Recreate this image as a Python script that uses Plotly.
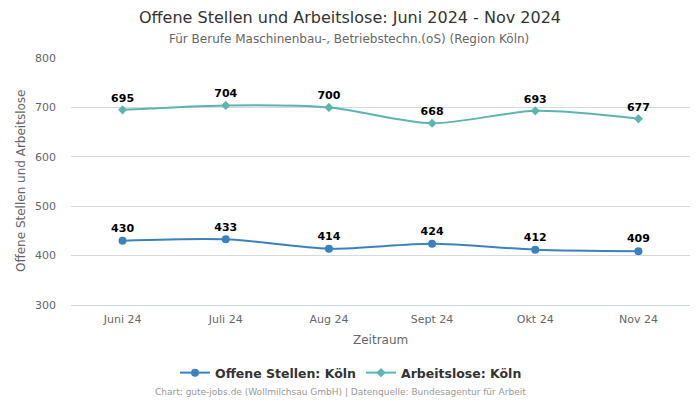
import plotly.graph_objects as go

categories = ["Juni 24", "Juli 24", "Aug 24", "Sept 24", "Okt 24", "Nov 24"]
offene_stellen = [430, 433, 414, 424, 412, 409]
arbeitslose = [695, 704, 700, 668, 693, 677]
y_ticks = [300, 400, 500, 600, 700, 800]

FONT = "DejaVu Sans, Verdana, sans-serif"
blue = "#3a82bd"
teal = "#5cb5ad"

W, H = 700, 400
L, R, T, B = 71, 10, 58, 95
PH = H - T - B
PW = W - L - R


def py(px):
    """pixel y from top -> paper y"""
    return (H - B - px) / PH


def px_(p):
    return (p - L) / PW


fig = go.Figure()
fig.add_trace(go.Scatter(
    x=categories, y=offene_stellen, name="Offene Stellen: Köln",
    mode="lines+markers+text", line=dict(color=blue, width=2, shape="spline", smoothing=0.8),
    marker=dict(symbol="circle", size=8, color=blue),
    text=[str(v) for v in offene_stellen], textposition="top center",
    textfont=dict(family=FONT, size=11, color="#000000", weight="bold"),
    cliponaxis=False,
))
fig.add_trace(go.Scatter(
    x=categories, y=arbeitslose, name="Arbeitslose: Köln",
    mode="lines+markers+text", line=dict(color=teal, width=2, shape="spline", smoothing=0.8),
    marker=dict(symbol="diamond", size=7, color=teal),
    text=[str(v) for v in arbeitslose], textposition="top center",
    textfont=dict(family=FONT, size=11, color="#000000", weight="bold"),
    cliponaxis=False,
))

annotations = [
    dict(text="Offene Stellen und Arbeitslose: Juni 2024 - Nov 2024",
         x=px_(350), y=py(17), xref="paper", yref="paper", xanchor="center", yanchor="middle",
         showarrow=False, font=dict(family=FONT, size=16, color="#333333")),
    dict(text="Für Berufe Maschinenbau-, Betriebstechn.(oS) (Region Köln)",
         x=px_(349), y=py(39), xref="paper", yref="paper", xanchor="center", yanchor="middle",
         showarrow=False, font=dict(family=FONT, size=12, color="#666666")),
    dict(text="Zeitraum",
         x=0.5, y=py(340), xref="paper", yref="paper", xanchor="center", yanchor="middle",
         showarrow=False, font=dict(family=FONT, size=12, color="#666666")),
    dict(text="Offene Stellen und Arbeitslose", textangle=-90,
         x=px_(21), y=py(181), xref="paper", yref="paper", xanchor="center", yanchor="middle",
         showarrow=False, font=dict(family=FONT, size=12, color="#666666")),
    dict(text="Chart: gute-jobs.de (Wollmilchsau GmbH) | Datenquelle: Bundesagentur für Arbeit",
         x=px_(340), y=py(392), xref="paper", yref="paper", xanchor="center", yanchor="middle",
         showarrow=False, font=dict(family=FONT, size=9, color="#999999")),
]

fig.update_layout(
    width=W, height=H,
    margin=dict(l=L, r=R, t=T, b=B, autoexpand=False),
    paper_bgcolor="white", plot_bgcolor="white",
    font=dict(family=FONT, color="#666666", size=11),
    xaxis=dict(
        range=[-0.5, 5.5], showgrid=False, showline=True, linecolor="#ccd6eb",
        ticks="", tickfont=dict(size=11, color="#666666"), fixedrange=True,
        automargin=False, ticklabelstandoff=4,
    ),
    yaxis=dict(
        range=[300, 800], tickvals=y_ticks, showgrid=True, gridcolor="#d8d8d8",
        zeroline=False, tickfont=dict(size=11, color="#666666"), automargin=False,
        ticklabelstandoff=14, fixedrange=True,
    ),
    legend=dict(
        orientation="h", x=px_(351), xanchor="center", y=py(373), yanchor="middle",
        font=dict(family=FONT, size=12.5, color="#333333", weight="bold"),
        itemwidth=30,
    ),
    annotations=annotations,
)
fig.write_html(
    "out.html",
    config={"displayModeBar": False},
    post_script="document.body.style.margin='0';document.body.style.overflow='hidden';",
)
